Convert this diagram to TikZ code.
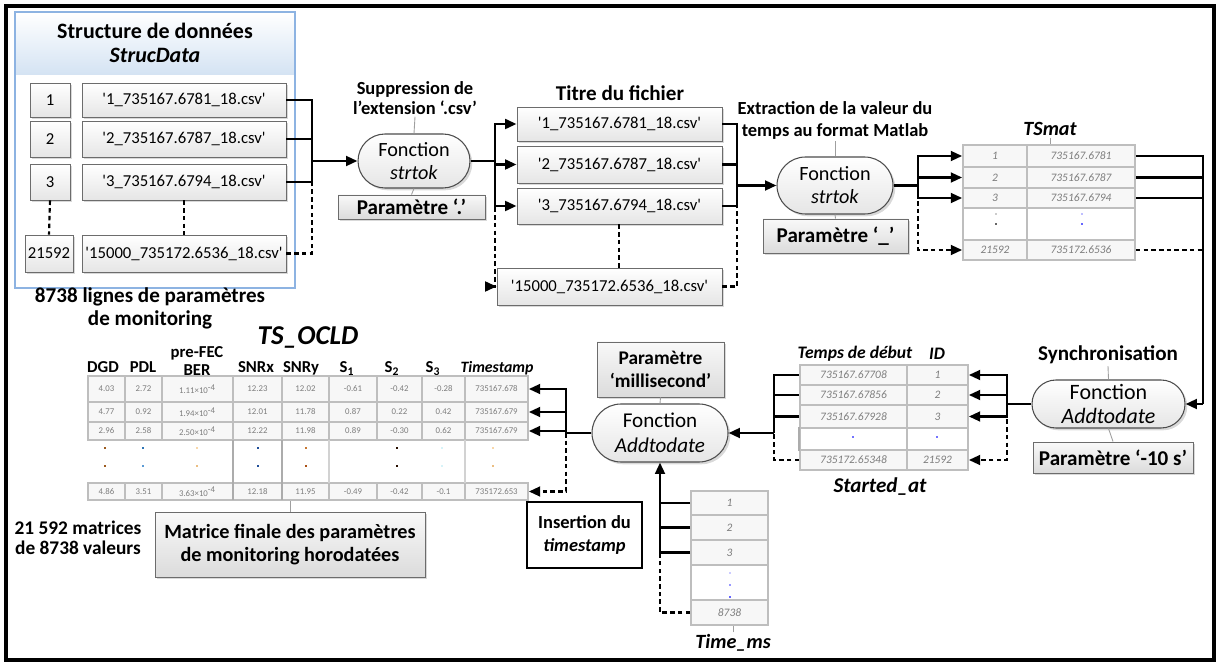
\documentclass[tikz,border=0pt]{standalone}
\usepackage{fontspec}
\setmainfont{Carlito}
\usetikzlibrary{arrows.meta,shapes.misc,shadows}
\definecolor{sdb}{RGB}{141,179,226}
\definecolor{sdh}{RGB}{212,227,243}
\definecolor{gridc}{RGB}{190,190,190}
\definecolor{celltx}{RGB}{125,125,125}
\newcommand{\sq}{\textquotesingle}
\newcommand{\sci}[2]{#1\texttimes10\textsuperscript{#2}}
\newcommand{\bx}[7]{\node[#1, minimum width={(#5-#3)*0.02cm}, minimum height={(#6-#4)*0.02cm}] (#2) at ({(#3+#5)/2},{(#4+#6)/2}) {#7};}
\newcommand{\dotat}[3]{\fill[#1] ({#2-1.4},{#3-1.4}) rectangle ({#2+1.4},{#3+1.4});}
\tikzset{
 conn/.style={line width=1.5pt},
 dconn/.style={line width=1.5pt, dash pattern=on 2.6pt off 1.8pt},
 arr/.style={conn, -{Triangle[length=6.5pt,width=5.5pt]}},
 darr/.style={dconn, -{Triangle[length=6.5pt,width=5.5pt]}},
 tline/.style={draw=gray!75, line width=0.5pt},
 shad/.style={drop shadow={opacity=0.3, shadow xshift=1.3pt, shadow yshift=-1.3pt}},
 fbox/.style={draw=gray!85!black, line width=0.5pt, top color=white, bottom color=gray!20, inner sep=0pt, shad, font=\fontsize{9.5}{11}\selectfont},
 pbox/.style={draw=gray!85!black, line width=0.5pt, top color=gray!5, bottom color=gray!28, inner sep=0pt, shad, align=center, font=\bfseries\fontsize{12}{14}\selectfont},
 func/.style={rounded rectangle, draw=gray!60!black, line width=0.6pt, top color=white, bottom color=gray!20, inner sep=0pt, align=center, shad, font=\fontsize{11.5}{13}\selectfont},
 lbl/.style={align=center, inner sep=1pt, font=\bfseries\fontsize{10.5}{11.5}\selectfont},
 capt/.style={align=center, inner sep=1pt, font=\bfseries\fontsize{12}{13}\selectfont},
 ttl/.style={inner sep=1pt, font=\bfseries\itshape\fontsize{12}{14}\selectfont},
 hdr/.style={align=center, inner sep=0.5pt, font=\bfseries\fontsize{9.5}{10.5}\selectfont},
 cell/.style={draw=gridc, line width=0.9pt, fill=gray!6, inner sep=0pt, text=celltx, font=\itshape\fontsize{6.5}{7}\selectfont},
 ocell/.style={cell, font=\fontsize{5}{6}\selectfont},
}
\begin{document}
\begin{tikzpicture}[x=0.02cm,y=-0.02cm]
\useasboundingbox (0,0) rectangle (1220,665);
\draw[line width=2.2pt] (6,6) rectangle (1214,660);

% ---------- StrucData ----------
\draw[draw=sdb, line width=0.8pt, fill=white] (15,12) rectangle (295,288);
\shade[top color=white, bottom color=sdh] (15.4,12.4) rectangle (294.6,75);
\draw[draw=sdb, line width=0.8pt] (15,12) rectangle (295,288);
\node[font=\bfseries\fontsize{12.5}{13.5}\selectfont, align=center] (sdt) at (155,43) {Structure de données\\\textit{StrucData}};
\bx{fbox}{i1}{30}{83}{70}{117}{1}
\bx{fbox}{i2}{30}{121}{70}{157}{2}
\bx{fbox}{i3}{30}{164}{70}{200}{3}
\bx{fbox}{i4}{25}{235}{73}{272}{21592}
\bx{fbox}{f1}{82}{83}{286}{117}{\sq1\_735167.6781\_18.csv\sq}
\bx{fbox}{f2}{82}{121}{286}{157}{\sq2\_735167.6787\_18.csv\sq}
\bx{fbox}{f3}{82}{164}{286}{200}{\sq3\_735167.6794\_18.csv\sq}
\bx{fbox}{f4}{82}{235}{286}{272}{\sq15000\_735172.6536\_18.csv\sq}
\draw[dconn, line width=1.2pt] (i3.south) -- (i4.north);
\draw[dconn, line width=1.2pt] (f3.south) -- (f4.north);
\node[capt] (cap1) at (150,308) {8738 lignes de paramètres\\de monitoring};

% ---------- strtok 1 ----------
\bx{func}{s1}{358}{134}{470}{188}{Fonction\\\textit{strtok}}
\node[lbl] (lbl1) at (415,98) {Suppression de\\l’extension ‘.csv’};
\bx{pbox}{p1}{338}{195}{485}{219}{Paramètre ‘.’}
\draw[tline] (lbl1.south) -- (s1.north);
\draw[tline] (s1.south) -- (p1.north);

% ---------- Titre du fichier ----------
\node[capt] (lbl2) at (620,93) {Titre du fichier};
\bx{fbox}{t1}{517}{107}{722}{141}{\sq1\_735167.6781\_18.csv\sq}
\bx{fbox}{t2}{517}{146}{722}{183}{\sq2\_735167.6787\_18.csv\sq}
\bx{fbox}{t3}{517}{188}{722}{224}{\sq3\_735167.6794\_18.csv\sq}
\bx{fbox}{t4}{497}{268}{722}{305}{\sq15000\_735172.6536\_18.csv\sq}
\draw[dconn, line width=1.2pt] (t3.south -| 619,0) -- (t4.north -| 619,0);

% ---------- strtok 2 ----------
\bx{func}{s2}{777}{157}{893}{214}{Fonction\\\textit{strtok}}
\node[lbl, font=\bfseries\fontsize{10.5}{12.5}\selectfont] (lbl3) at (835,120) {Extraction de la valeur du\\temps au format Matlab};
\bx{pbox}{p2}{763}{219}{908}{253}{Paramètre ‘\_’}
\draw[tline] (lbl3.south) -- (s2.north);
\draw[tline] (s2.south) -- (p2.north);

% ---------- TSmat ----------
\node[ttl, font=\bfseries\itshape\fontsize{11.5}{13}\selectfont] (tsm) at (1050,129) {TSmat};
\foreach \r/\ya/\yb/\a/\b in {1/145/167/1/735167.6781, 2/167/188/2/735167.6787, 3/188/208/3/735167.6794, 4/240/260/21592/735172.6536}{
  \bx{cell}{mi\r}{963}{\ya}{1027}{\yb}{\a}
  \bx{cell}{mv\r}{1027}{\ya}{1135}{\yb}{\b}
}
\bx{cell, fill=white}{md1}{963}{208}{1027}{240}{}
\bx{cell, fill=white}{md2}{1027}{208}{1135}{240}{}
\dotat{gray!40}{996}{214}\dotat{gray!80!black}{996}{224}
\dotat{blue!25}{1082}{214}\dotat{blue!60}{1082}{224}
\draw[tline] (tsm.south) -- (tsm.south |- mv1.north);

% ---------- Synchronisation ----------
\node[capt] (lbl4) at (1108,355) {Synchronisation};
\bx{func, font=\fontsize{12.5}{14}\selectfont}{a3}{1032}{380}{1185}{428}{Fonction\\\textit{Addtodate}}
\bx{pbox}{p3}{1033}{442}{1193}{473}{Paramètre ‘-10 s’}
\draw[tline] (lbl4.south) -- (a3.north);
\draw[tline] (a3.south) -- (p3.north);

% ---------- Started_at ----------
\node[ttl, font=\bfseries\itshape\fontsize{10}{12}\selectfont] (tdeb) at (855,354) {Temps de début};
\node[ttl, font=\bfseries\itshape\fontsize{10}{12}\selectfont] (tid) at (937,354) {ID};
\foreach \r/\ya/\yb/\a/\b in {1/365/385/735167.67708/1, 2/385/405/735167.67856/2, 3/405/428/735167.67928/3, 4/450/470/735172.65348/21592}{
  \bx{cell}{st\r}{800}{\ya}{907}{\yb}{\a}
  \bx{cell}{sv\r}{907}{\ya}{968}{\yb}{\b}
}
\bx{cell, fill=white}{sd1}{800}{428}{907}{450}{}
\bx{cell, fill=white}{sd2}{907}{428}{968}{450}{}
\draw[gray!65, line width=1.4pt] (sd1.north west) -- (sd1.south west);
\dotat{blue!55}{853}{437}\dotat{blue!55}{937}{437}
\node[ttl] (stat) at (880,487) {Started\_at};

% ---------- Addtodate (ms) ----------
\bx{func, font=\fontsize{12}{14}\selectfont}{a4}{592}{404}{728}{462}{Fonction\\\textit{Addtodate}}
\bx{pbox, font=\bfseries\fontsize{11}{13.5}\selectfont}{p4}{597}{342}{724}{397}{Paramètre\\‘millisecond’}
\draw[tline] (p4.south) -- (a4.north);
\bx{draw=black, line width=0.6pt, fill=white, inner sep=0pt, align=center, font=\bfseries\fontsize{10.5}{13}\selectfont}{ins}{527}{502}{642}{568}{Insertion du\\\textit{timestamp}}

% ---------- Time_ms ----------
\foreach \r/\ya/\yb/\a in {1/491/515/1, 2/515/540/2, 3/540/565/3, 4/600/625/8738}{
  \bx{cell}{tm\r}{691}{\ya}{768}{\yb}{\a}
}
\bx{cell, fill=white}{tmd}{691}{565}{768}{600}{}
\dotat{blue!20}{730}{573}\dotat{blue!40}{730}{585}\dotat{blue!60}{730}{597}
\node[ttl, font=\bfseries\itshape\fontsize{11.5}{13}\selectfont] (tms) at (733,643) {Time\_ms};
\draw[tline] (tms.north) -- (tms.north |- tm4.south);

% ---------- TS_OCLD ----------
\node[ttl, font=\bfseries\itshape\fontsize{15.5}{17}\selectfont] (tsocld) at (308,337) {TS\_OCLD};
\node[hdr, anchor=base] (hDGD) at (103,373) {DGD};
\node[hdr, anchor=base] (hPDL) at (143,373) {PDL};
\node[hdr, anchor=south] (hBER) at (197,377) {pre-FEC\\BER};
\node[hdr, anchor=base] (hSx) at (256,373) {SNRx};
\node[hdr, anchor=base] (hSy) at (301,373) {SNRy};
\node[hdr, anchor=base] (hS1) at (347,373) {S\textsubscript{1}};
\node[hdr, anchor=base] (hS2) at (392,373) {S\textsubscript{2}};
\node[hdr, anchor=base] (hS3) at (433,373) {S\textsubscript{3}};
\node[hdr, anchor=base, font=\bfseries\itshape\fontsize{9}{10}\selectfont] (hTs) at (497,373) {Timestamp};
\foreach \ci/\xa/\xb/\vA/\vB/\vC/\vD in {
  1/88/125/{4.03}/{4.77}/{2.96}/{4.86},
  2/125/162/{2.72}/{0.92}/{2.58}/{3.51},
  3/162/233/{\sci{1.11}{-4}}/{\sci{1.94}{-4}}/{\sci{2.50}{-4}}/{\sci{3.63}{-4}},
  4/233/282/{12.23}/{12.01}/{12.22}/{12.18},
  5/282/329/{12.02}/{11.78}/{11.98}/{11.95},
  6/329/377/{-0.61}/{0.87}/{0.89}/{-0.49},
  7/377/422/{-0.42}/{0.22}/{-0.30}/{-0.42},
  8/422/465/{-0.28}/{0.42}/{0.62}/{-0.1},
  9/465/528/{735167.678}/{735167.679}/{735167.679}/{735172.653}}{
  \bx{ocell}{o1-\ci}{\xa}{376}{\xb}{402}{\vA}
  \bx{ocell}{o2-\ci}{\xa}{402}{\xb}{422}{\vB}
  \bx{ocell}{o3-\ci}{\xa}{422}{\xb}{440}{\vC}
  \bx{ocell}{o4-\ci}{\xa}{483}{\xb}{500}{\vD}
}
\draw[gray!65, line width=1.3pt] (233,440) -- (233,500) (282,440) -- (282,500);
\draw[gray!35, line width=1.3pt] (329,440) -- (329,483) (465,440) -- (465,483);
\definecolor{d1}{RGB}{156,90,30}\definecolor{d2}{RGB}{46,117,182}\definecolor{d2b}{RGB}{91,155,213}
\definecolor{d3}{RGB}{248,215,170}\definecolor{d3b}{RGB}{235,190,130}\definecolor{d4}{RGB}{31,78,153}
\definecolor{d5}{RGB}{200,120,50}\definecolor{d5b}{RGB}{170,80,20}\definecolor{d7}{RGB}{40,15,0}
\definecolor{d8}{RGB}{215,243,248}
\dotat{d1}{105}{448}\dotat{d1}{105}{466}
\dotat{d2}{143}{448}\dotat{d2b}{143}{466}
\dotat{d3}{197}{448}\dotat{d3b}{197}{466}
\dotat{d4}{258}{448}\dotat{d4}{258}{466}
\dotat{d5}{306}{448}\dotat{d5b}{306}{466}
\dotat{d7}{397}{448}\dotat{d7}{397}{466}
\dotat{d8}{442}{448}\dotat{d8}{442}{466}
\dotat{d3}{493}{448}\dotat{d3b}{493}{466}

% ---------- bottom captions ----------
\node[capt, font=\bfseries\fontsize{11}{11.5}\selectfont] (cap2) at (78,538) {21 592 matrices\\de 8738 valeurs};
\bx{pbox, font=\bfseries\fontsize{11.5}{13.5}\selectfont}{mf}{155}{512}{425}{577}{Matrice finale des paramètres\\de monitoring horodatées}
\draw[tline] (mf.north) -- (mf.north |- o4-5.south);

% ---------- connectors ----------
% StrucData -> strtok 1
\coordinate (jA) at (312,161);
\draw[dconn] (f4.east) -| (jA);
\draw[conn] (f1.east) -| (jA);
\draw[conn] (f2.east) -| (jA);
\draw[conn] (f3.east) -| (jA);
\draw[arr] (jA) -- (s1.west);
% strtok 1 -> Titre du fichier
\coordinate (jB) at (495,161);
\draw[conn] (s1.east) -- (jB);
\draw[darr] (jB) |- (t4.west);
\draw[arr] (jB) |- (t1.west);
\draw[arr] (jB) |- (t2.west);
\draw[arr] (jB) |- (t3.west);
% Titre -> strtok 2
\coordinate (jC) at (737,185.5);
\draw[dconn] (t4.east) -| (jC);
\draw[conn] (t1.east) -| (jC);
\draw[conn] (t2.east) -| (jC);
\draw[conn] (t3.east) -| (jC);
\draw[arr] (jC) -- (s2.west);
% strtok 2 -> TSmat
\coordinate (jD) at (918,185.5);
\draw[conn] (s2.east) -- (jD);
\draw[darr] (jD) |- (mi4.west);
\draw[arr] (jD) |- (mi1.west);
\draw[arr] (jD) |- (mi2.west);
\draw[arr] (jD) |- (mi3.west);
% TSmat -> Addtodate (sync)
\coordinate (jE) at (1203,404);
\draw[dconn] (mv4.east) -| (jE);
\draw[conn] (mv1.east) -| (jE);
\draw[conn] (mv2.east) -| (jE);
\draw[conn] (mv3.east) -| (jE);
\draw[arr] (jE) -- (a3.east);
% Addtodate (sync) -> Started_at
\coordinate (jF) at (1007,404);
\draw[conn] (a3.west) -- (jF);
\draw[darr] (jF) |- (sv4.east);
\draw[arr] (jF) |- (sv1.east);
\draw[arr] (jF) |- (sv2.east);
\draw[arr] (jF) |- (sv3.east);
% Started_at -> Addtodate (ms)
\coordinate (jG) at (774,433);
\draw[dconn] (st4.west) -| (jG);
\draw[conn] (st1.west) -| (jG);
\draw[conn] (st2.west) -| (jG);
\draw[conn] (st3.west) -| (jG);
\draw[arr] (jG) -- (a4.east);
% Time_ms -> Addtodate (ms)
\coordinate (jH) at (a4.south |- tm1.west);
\draw[dconn] (tm4.west) -| (jH);
\draw[conn] (tm2.west) -| (jH);
\draw[conn] (tm3.west) -| (jH);
\draw[arr] (tm1.west) -| (a4.south);
% Addtodate (ms) -> TS_OCLD
\coordinate (jI) at (566,433);
\draw[conn] (a4.west) -- (jI);
\draw[darr] (jI) |- (o4-9.east);
\draw[arr] (jI) |- (o1-9.east);
\draw[arr] (jI) |- (o2-9.east);
\draw[arr] (jI) |- (o3-9.east);
\end{tikzpicture}
\end{document}
